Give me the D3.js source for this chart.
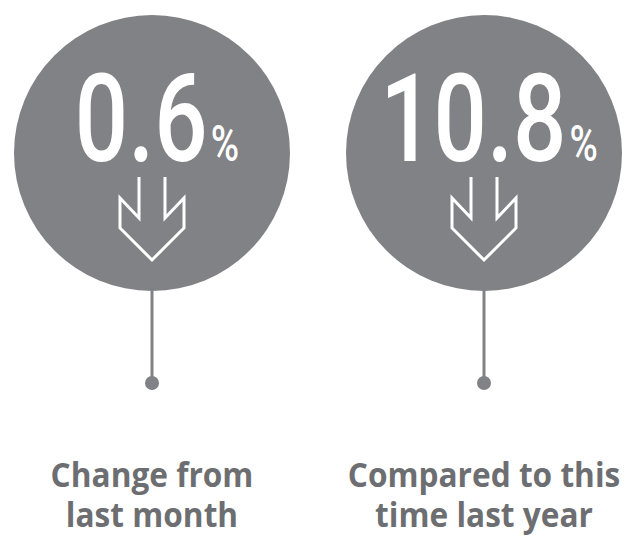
<!DOCTYPE html>
<html>
<head>
<meta charset="utf-8">
<script src="https://cdn.jsdelivr.net/npm/d3@7"></script>
<style>
  body { margin: 0; background: #fff; }
  svg { display: block; }
</style>
</head>
<body>
<div id="chart"></div>
<script>
// the two figures and what they mean
const metrics = ["month", "year"];
const values = [0.6, 10.8];
const directions = ["down", "down"];
const captionLine1 = ["Change from", "Compared to this"];
const captionLine2 = ["last month", "time last year"];

const width = 625, height = 541;
const radius = 138;
const cy = 153;
const grey = "#818286", textGrey = "#6d6e71";

const svg = d3.select("#chart")
  .append("svg")
    .attr("width", width)
    .attr("height", height);

// one column per metric
const x = d3.scalePoint()
  .domain(metrics)
  .range([152, 484]);

const fmt = d3.format(".1f");

const g = svg.selectAll("g.metric")
  .data(metrics)
  .join("g")
    .attr("class", "metric")
    .attr("transform", d => `translate(${x(d)},0)`);

// stem + dot under each circle
g.append("line")
  .attr("x1", 0).attr("x2", 0)
  .attr("y1", cy + radius - 2)
  .attr("y2", cy + 230)
  .attr("stroke", grey)
  .attr("stroke-width", 3);

g.append("circle")
  .attr("cy", cy + 230)
  .attr("r", 7)
  .attr("fill", grey);

g.append("circle")
  .attr("cy", cy)
  .attr("r", radius)
  .attr("fill", grey);

// big number, DIN-ish look by squeezing Roboto
const num = g.append("text")
  .attr("transform", `translate(5,${cy + 8}) scale(0.77,1)`)
  .attr("text-anchor", "middle")
  .attr("font-family", "Roboto, 'DejaVu Sans'")
  .attr("font-weight", 500)
  .attr("fill", "#fff");

num.append("tspan")
  .attr("font-size", 122)
  .text((d, i) => fmt(values[i]));
num.append("tspan")
  .attr("font-size", 50)
  .attr("dx", 4)
  .text("%");

// outlined double-shaft arrow
function arrowPath(dir) {
  const s = dir === "down" ? 1 : -1;
  const pts = [
    [-13, 24], [-13, 65], [-32, 45], [-32, 75], [0, 107],
    [32, 75], [32, 45], [13, 65], [13, 24]
  ];
  return d3.line()(pts.map(p => [p[0], cy + s * p[1]]));
}

g.append("path")
  .attr("d", (d, i) => arrowPath(directions[i]))
  .attr("fill", "none")
  .attr("stroke", "#fff")
  .attr("stroke-width", 3)
  .attr("stroke-linejoin", "miter");

// captions (a bit narrowed, the original face is tighter than Open Sans)
const cap = g.append("text")
  .attr("transform", "scale(0.93,1)")
  .attr("text-anchor", "middle")
  .attr("font-family", "'Open Sans', 'Noto Sans', sans-serif")
  .attr("font-weight", 700)
  .attr("font-size", 34)
  .attr("fill", textGrey);

cap.append("tspan")
  .attr("x", 0)
  .attr("y", 487)
  .text((d, i) => captionLine1[i]);
cap.append("tspan")
  .attr("x", 0)
  .attr("y", 527)
  .text((d, i) => captionLine2[i]);
</script>
</body>
</html>
